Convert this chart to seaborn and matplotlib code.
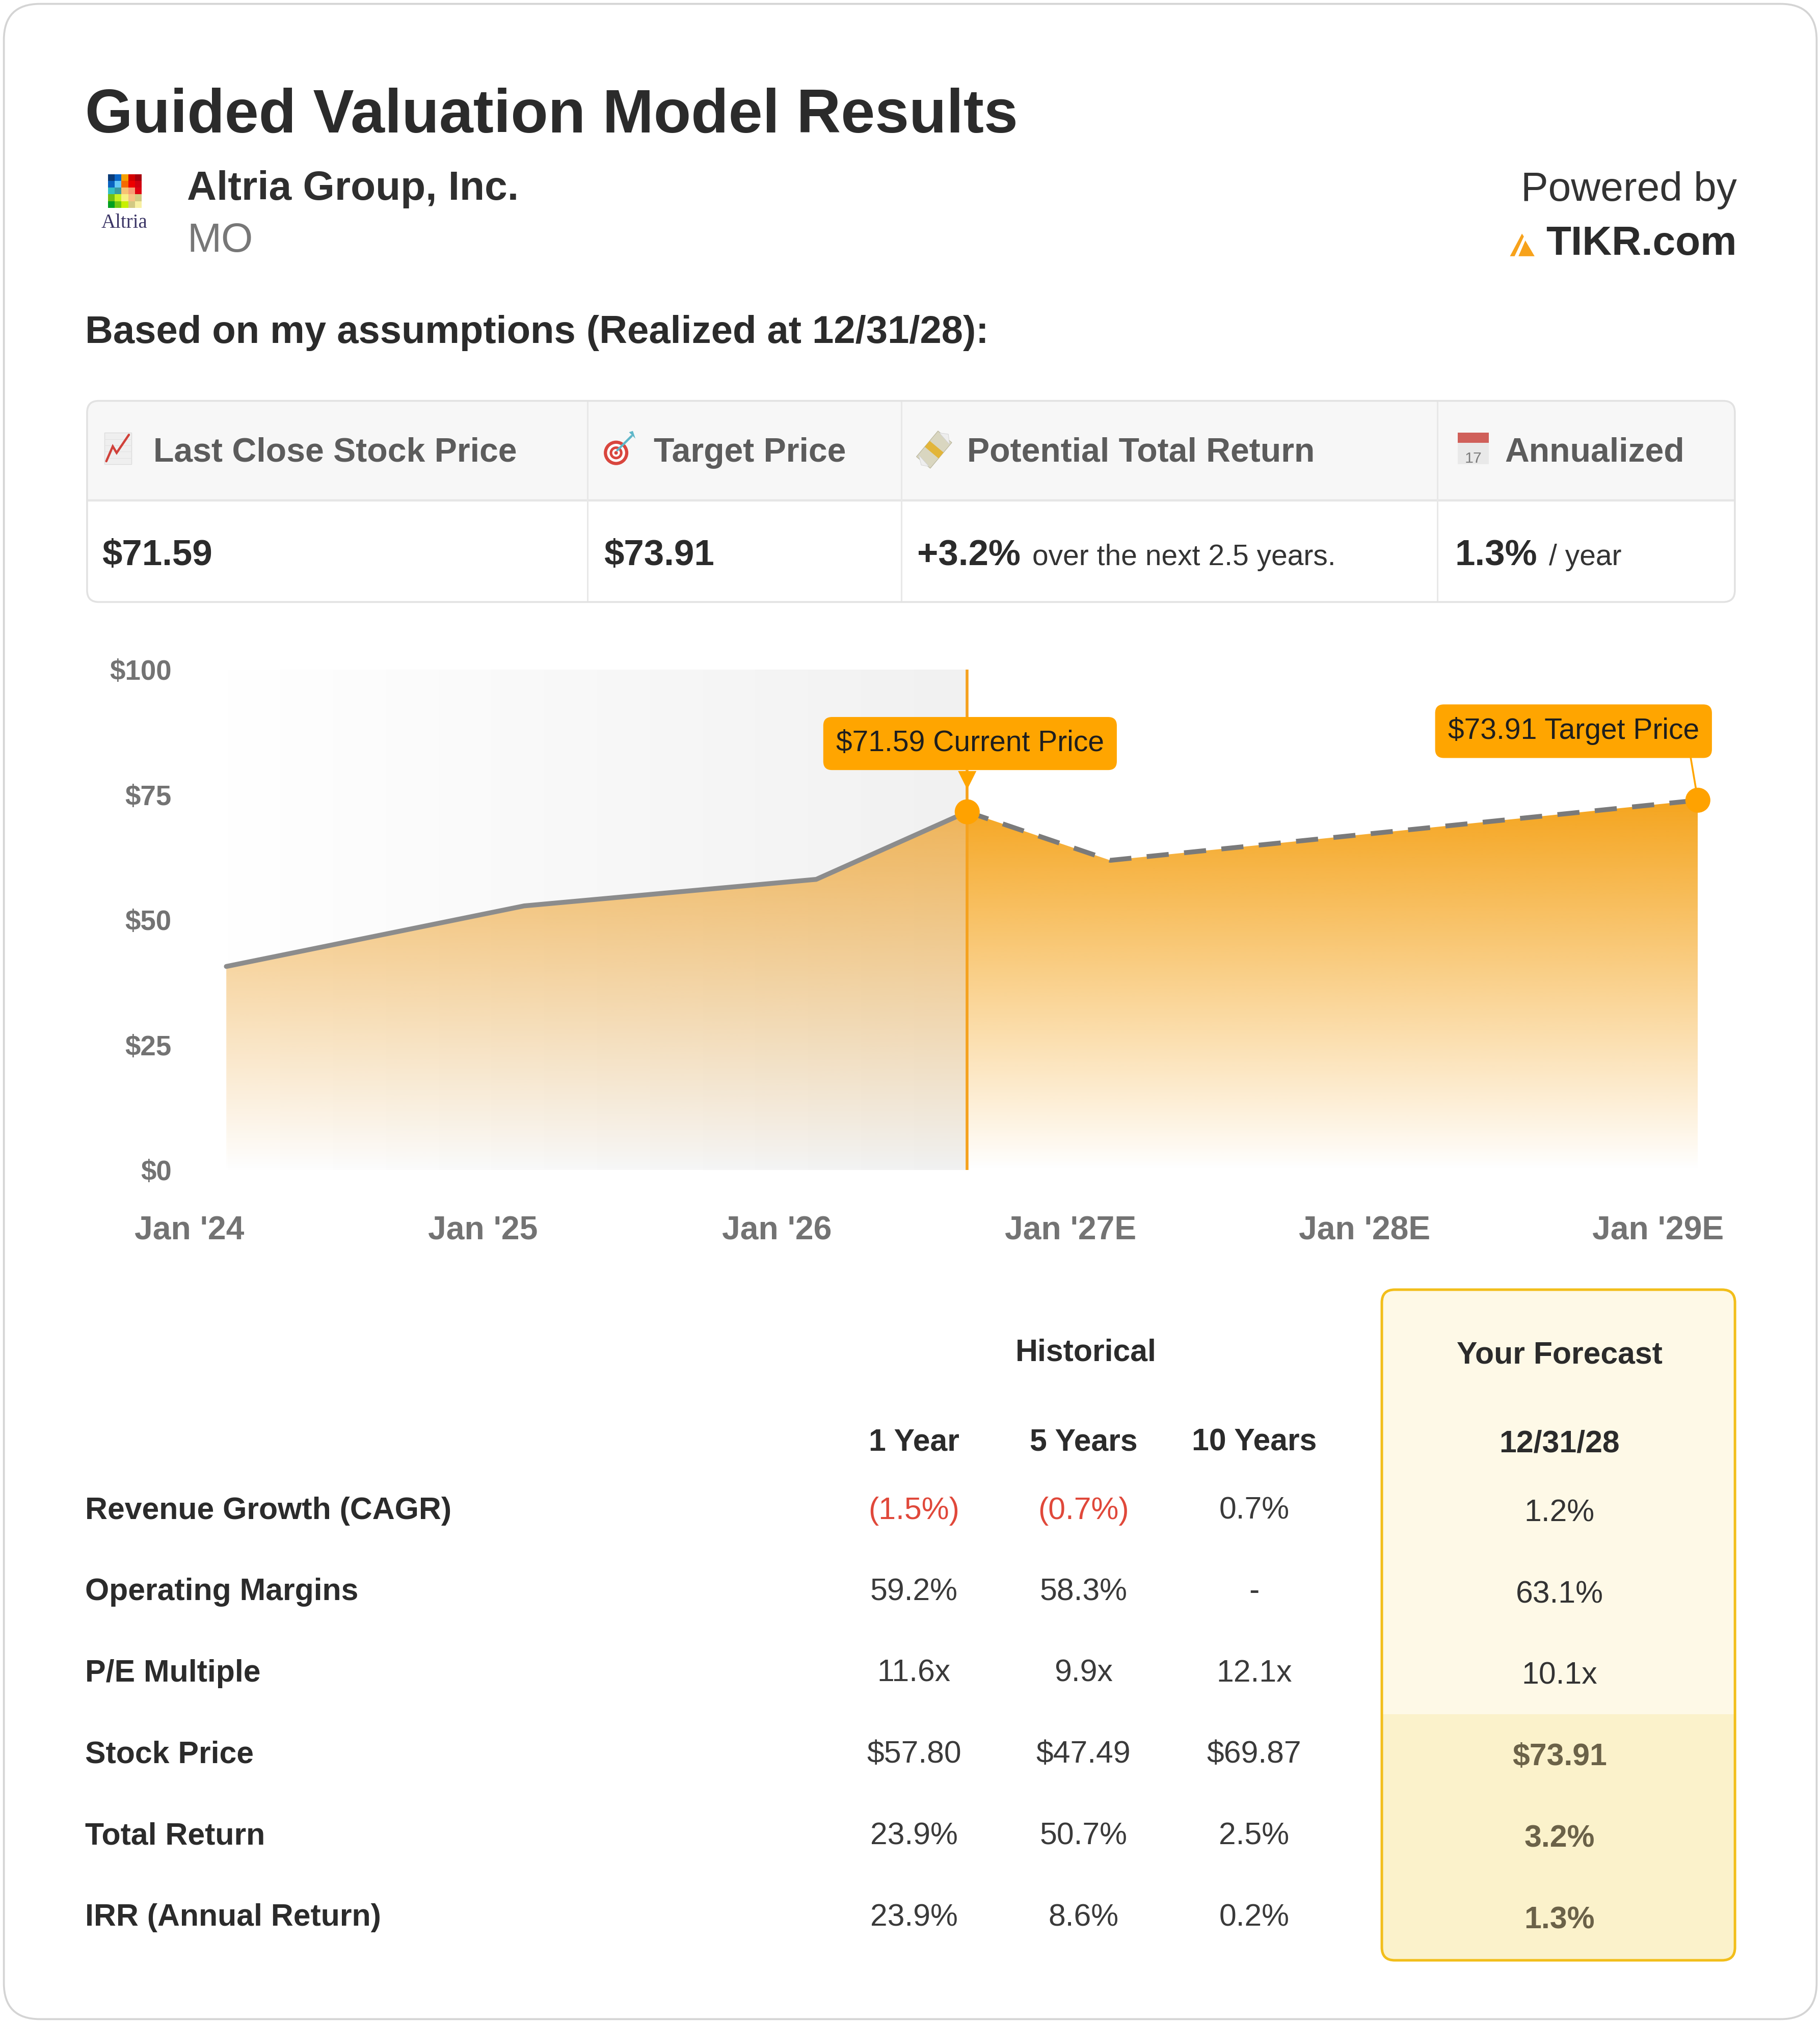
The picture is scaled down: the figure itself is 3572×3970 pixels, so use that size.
import numpy as np
import pandas as pd
import matplotlib
matplotlib.use("Agg")
import matplotlib.pyplot as plt
import matplotlib.transforms as mtransforms
from matplotlib.patches import FancyBboxPatch, Rectangle, Polygon, Circle
from matplotlib.colors import to_rgb
import seaborn as sns

# ---------------- data ----------------
company = "Altria Group, Inc."
ticker = "MO"
hist_years = [2024.126, 2025.140, 2026.134, 2026.648]
hist_prices = [40.7, 52.8, 58.1, 71.59]
fcst_years = [2026.648, 2027.135, 2029.135]
fcst_prices = [71.59, 61.9, 73.91]
current_price = 71.59
target_price = 73.91
x_ticks = [2024, 2025, 2026, 2027, 2028, 2029]
x_tick_labels = ["Jan '24", "Jan '25", "Jan '26", "Jan '27E", "Jan '28E", "Jan '29E"]
y_ticks = [0, 25, 50, 75, 100]
y_tick_labels = ["$0", "$25", "$50", "$75", "$100"]

summary_headers = ["Last Close Stock Price", "Target Price", "Potential Total Return", "Annualized"]
summary_main = ["$71.59", "$73.91", "+3.2%", "1.3%"]
summary_suffix = ["", "", "over the next 2.5 years.", "/ year"]

metric_names = ["Revenue Growth (CAGR)", "Operating Margins", "P/E Multiple",
                "Stock Price", "Total Return", "IRR (Annual Return)"]
period_headers = ["1 Year", "5 Years", "10 Years"]
hist_1y = ["(1.5%)", "59.2%", "11.6x", "$57.80", "23.9%", "23.9%"]
hist_5y = ["(0.7%)", "58.3%", "9.9x", "$47.49", "50.7%", "8.6%"]
hist_10y = ["0.7%", "-", "12.1x", "$69.87", "2.5%", "0.2%"]
forecast_header = "12/31/28"
forecast_vals = ["1.2%", "63.1%", "10.1x", "$73.91", "3.2%", "1.3%"]

# ---------------- style ----------------
sns.set_theme(style="white")
plt.rcParams['font.family'] = ['Liberation Sans', 'DejaVu Sans']

W, H = 1411.0, 1568.0          # layout units (scaled to 3573 x 3970 px)
PT = 3573 / W * 0.72           # points per layout unit of font em

ORANGE = '#FFA500'
DARK = '#2b2b2b'

fig = plt.figure(figsize=(35.73, 39.70), dpi=100)
fig.patch.set_facecolor('white')
bg = fig.add_axes([0, 0, 1, 1], zorder=0)
bg.set_xlim(0, W)
bg.set_ylim(H, 0)
bg.axis('off')


def txt(x, y, s, em, weight='normal', color=DARK, ha='left', va='baseline', family=None, z=5):
    kw = {}
    if family:
        kw['family'] = family
    return bg.text(x, y, s, fontsize=em * PT, fontweight=weight, color=color,
                   ha=ha, va=va, zorder=z, **kw)


# card
card = FancyBboxPatch((3, 3), W - 6, H - 6, boxstyle="round,pad=0,rounding_size=28",
                      fc='white', ec='#d4d4d4', lw=2.7, zorder=0.1)
bg.add_patch(card)

# ---------------- header ----------------
txt(66, 102.5, "Guided Valuation Model Results", 47.5, 'bold')

logo_colors = [
    ['#0b3c78', '#0a66c8', '#f59f00', '#d40000', '#a8000e'],
    ['#0a62c0', '#66c8f5', '#f56a00', '#ee0000', '#d00010'],
    ['#33c0c4', '#3a9aa0', '#f7c273', '#f79c74', '#e00010'],
    ['#72c012', '#c8f020', '#f8f083', '#f6c284', '#d2c983'],
    ['#00a020', '#72c812', '#c8f000', '#d2c983', '#f8f0a2'],
]
lx0, ly0, cs = 83.7, 135.0, 5.22
for r, row in enumerate(logo_colors):
    for c, col in enumerate(row):
        bg.add_patch(Rectangle((lx0 + c * cs, ly0 + r * cs), cs, cs, fc=col, ec='none', zorder=2))
txt(96.5, 176.4, "Altria", 15.4, 'normal', '#3b3566', ha='center', family=['Liberation Serif', 'DejaVu Serif'])

txt(145, 155, company, 31.7, 'bold', '#2f2f2f')
txt(145, 195, ticker, 31.7, 'normal', '#777777')
txt(1346, 155.5, "Powered by", 31.7, 'normal', '#333333', ha='right')
txt(1346, 197.5, "TIKR.com", 31.7, 'bold', DARK, ha='right')
bg.add_patch(Polygon([(1170.3, 198.6), (1173.9, 198.6), (1181.1, 183.3), (1179.6, 181.1)],
                     closed=True, fc='#F7A21B', ec='none', zorder=2))
bg.add_patch(Polygon([(1176.9, 198.6), (1189.4, 198.6), (1182.2, 186.4)],
                     closed=True, fc='#F7A21B', ec='none', zorder=2))

txt(66, 266, "Based on my assumptions (Realized at 12/31/28):", 30.0, 'bold')

# ---------------- summary table ----------------
TX0, TX1, TY0, TY1, TYS = 67.5, 1344.6, 310.7, 466.6, 388.0
outer = FancyBboxPatch((TX0, TY0), TX1 - TX0, TY1 - TY0, boxstyle="round,pad=0,rounding_size=9",
                       fc='white', ec='none', zorder=1)
bg.add_patch(outer)
hdr = Rectangle((TX0, TY0), TX1 - TX0, TYS - TY0, fc='#f7f7f7', ec='none', zorder=1.1)
bg.add_patch(hdr)
hdr.set_clip_path(outer)
bg.add_patch(FancyBboxPatch((TX0, TY0), TX1 - TX0, TY1 - TY0, boxstyle="round,pad=0,rounding_size=9",
                            fc='none', ec='#e2e2e2', lw=2.6, zorder=3))
bg.plot([TX0, TX1], [TYS, TYS], color='#e6e6e6', lw=3.2, zorder=2, solid_capstyle='butt')
col_div = [455.4, 698.4, 1114.2]
for xd in col_div:
    bg.plot([xd, xd], [TY0, TY1], color='#e8e8e8', lw=2.2, zorder=2, solid_capstyle='butt')

hdr_text_x = [118.8, 506.7, 749.7, 1166.4]
icon_x = [80.9, 467.5, 711.0, 1130.0]
for hx, s in zip(hdr_text_x, summary_headers):
    txt(hx, 357.7, s, 26.1, 'bold', '#5c5c5c')

# icon 1: chart increasing
ix = icon_x[0]
bg.add_patch(Rectangle((ix, 335.4), 21, 24.5, fc='#efefef', ec='#dcdcdc', lw=1, zorder=3))
for k in range(1, 5):
    bg.plot([ix, ix + 21], [335.4 + k * 4.9, 335.4 + k * 4.9], color='#e2e2e2', lw=0.8, zorder=3.1)
bg.plot([ix + 1.5, ix + 6.5, ix + 9.5, ix + 19], [357.5, 346, 351, 337], color='#d0413a', lw=3.2,
        zorder=3.2, solid_joinstyle='miter')
# icon 2: target
cx, cy = 477.5, 351.0
for rad, col in [(9.5, '#d9463e'), (7.0, 'white'), (5.0, '#d9463e'), (3.0, 'white'), (1.4, '#d9463e')]:
    bg.add_patch(Circle((cx, cy), rad, fc=col, ec='none', zorder=3))
bg.plot([cx + 1, cx + 12], [cy - 2, cy - 13], color='#5fb7c9', lw=3.2, zorder=3.3)
bg.add_patch(Polygon([(cx + 10, cy - 16), (cx + 15, cy - 11), (cx + 13, cy - 17)], fc='#5fb7c9', ec='none', zorder=3.3))
# icon 3: money with wings
mx, my = 724.0, 348.5
ang = np.deg2rad(-50)
rot = np.array([[np.cos(ang), -np.sin(ang)], [np.sin(ang), np.cos(ang)]])
rect_pts = np.array([[-13, -7], [13, -7], [13, 7], [-13, 7]]) @ rot.T + [mx, my]
bg.add_patch(Polygon(rect_pts, fc='#d9d6c0', ec='#b8b49a', lw=0.8, zorder=3))
band = np.array([[-3, -7], [3, -7], [3, 7], [-3, 7]]) @ rot.T + [mx, my]
bg.add_patch(Polygon(band, fc='#e2b53a', ec='none', zorder=3.1))
bg.add_patch(Polygon([(mx - 12, my + 4), (mx - 4, my + 13), (mx - 10, my + 12)], fc='#eeeeee', ec='#cfcfcf', lw=0.6, zorder=3.2))
bg.add_patch(Polygon([(mx + 12, my - 4), (mx + 4, my - 13), (mx + 11, my - 12)], fc='#eeeeee', ec='#cfcfcf', lw=0.6, zorder=3.2))
# icon 4: calendar
kx = icon_x[3]
bg.add_patch(Rectangle((kx, 335.4), 24, 24.5, fc='#e9e9e9', ec='none', zorder=3))
bg.add_patch(Rectangle((kx, 335.4), 24, 8, fc='#d0605a', ec='none', zorder=3.1))
txt(kx + 12, 358.5, "17", 12, 'normal', '#7a7a7a', ha='center', z=3.2)

# values row
val_x = [79.2, 468.0, 711.0, 1127.7]
fig.canvas.draw()
renderer = fig.canvas.get_renderer()
for vx, main, suf in zip(val_x, summary_main, summary_suffix):
    t = txt(vx, 438.2, main, 28.0, 'bold', DARK)
    if suf:
        bb = t.get_window_extent(renderer=renderer)
        xe = bg.transData.inverted().transform((bb.x1, bb.y0))[0]
        txt(xe + 9, 438.2, suf, 22.5, 'normal', '#333333')

# ---------------- chart ----------------
X0, X1 = 146.7, 1330.0
YT, YB = 519.0, 907.0
PX_PER_YEAR = 227.7
ax = fig.add_axes([X0 / W, 1 - YB / H, (X1 - X0) / W, (YB - YT) / H], zorder=1)
ax.set_facecolor('none')
xlim = (x_ticks[0], x_ticks[0] + (X1 - X0) / PX_PER_YEAR)

# historical background shading (horizontal gradient)
n = 256
gray = np.ones((1, n, 3))
g_end = np.array(to_rgb('#f1f1f1'))
for i in range(3):
    gray[0, :, i] = np.linspace(1.0, g_end[i], n)
ax.imshow(gray, extent=[hist_years[0], hist_years[-1], 0, 100], aspect='auto',
          interpolation='bilinear', zorder=0.5)


def vgrad(color, amax, vfull=75.0, n=512):
    v = np.linspace(100, 0, n)
    a = np.clip(v / vfull, 0, 1) * amax
    arr = np.zeros((n, 1, 4))
    arr[..., :3] = to_rgb(color)
    arr[..., 3] = a[:, None]
    return arr


poly_h = ax.fill_between(hist_years, hist_prices, 0, facecolor='none', edgecolor='none')
im_h = ax.imshow(vgrad('#EFA636', 0.85), extent=[hist_years[0], hist_years[-1], 0, 100],
                 aspect='auto', interpolation='bilinear', zorder=1)
im_h.set_clip_path(poly_h.get_paths()[0], transform=ax.transData)

poly_f = ax.fill_between(fcst_years, fcst_prices, 0, facecolor='none', edgecolor='none')
im_f = ax.imshow(vgrad('#F5A31A', 1.0), extent=[fcst_years[0], fcst_years[-1], 0, 100],
                 aspect='auto', interpolation='bilinear', zorder=1)
im_f.set_clip_path(poly_f.get_paths()[0], transform=ax.transData)

ax.axvline(hist_years[-1], color='#F5A11D', lw=4.0, zorder=2.5)

sns.lineplot(x=hist_years, y=hist_prices, ax=ax, color='#8c8c8c', linewidth=6.8,
             solid_capstyle='round', zorder=3)
sns.lineplot(x=fcst_years, y=fcst_prices, ax=ax, color='#7a7a7a', linewidth=6.8,
             linestyle=(0, (4.6, 3.2)), dash_capstyle='butt', zorder=3)
sns.scatterplot(x=[hist_years[-1], fcst_years[-1]], y=[current_price, target_price], ax=ax,
                s=1250, color='#FFA200', edgecolor='none', zorder=7, clip_on=False, legend=False)

ax.set_xlim(*xlim)
ax.set_ylim(0, 100)

ax.annotate(f"${current_price:.2f} Current Price", xy=(hist_years[-1], current_price),
            xytext=(4, 96.5), textcoords='offset points', ha='center', va='center',
            fontsize=22.5 * PT, color='#1e1e1e', zorder=6, annotation_clip=False,
            bbox=dict(boxstyle='round,pad=0.44,rounding_size=0.3', fc=ORANGE, ec='none'))
ptr_trans = fig.dpi_scale_trans + mtransforms.ScaledTranslation(hist_years[-1], current_price, ax.transData)
ax.add_patch(Polygon([(-0.18, 0.80), (0.18, 0.80), (0.0, 0.44)], closed=True, transform=ptr_trans,
                     fc=ORANGE, ec='none', zorder=6, clip_on=False))

ax.annotate(f"${target_price:.2f} Target Price", xy=(fcst_years[-1], target_price),
            xytext=(-175.7, 97.5), textcoords='offset points', ha='center', va='center',
            fontsize=22.5 * PT, color='#1e1e1e', zorder=6, annotation_clip=False,
            bbox=dict(boxstyle='round,pad=0.44,rounding_size=0.3', fc=ORANGE, ec='none'),
            arrowprops=dict(arrowstyle='-', color=ORANGE, lw=2.6, shrinkA=0, shrinkB=0,
                            relpos=(0.958, 0.0)))

ax.set_xticks(x_ticks, x_tick_labels)
ax.set_yticks(y_ticks, y_tick_labels)
ax.tick_params(axis='both', length=0)
ax.tick_params(axis='x', pad=64, labelsize=25.4 * PT, labelcolor='#737373')
ax.tick_params(axis='y', pad=25, labelsize=21.6 * PT, labelcolor='#737373')
for lab in ax.get_xticklabels() + ax.get_yticklabels():
    lab.set_fontweight('bold')
ax.grid(False)
sns.despine(ax=ax, left=True, bottom=True)

# ---------------- bottom table ----------------
FX0, FX1, FY0, FY1, FYS = 1071.0, 1344.7, 999.6, 1519.4, 1328.5
fbox = FancyBboxPatch((FX0, FY0), FX1 - FX0, FY1 - FY0, boxstyle="round,pad=0,rounding_size=10",
                      fc='#FEF9E7', ec='none', zorder=1)
bg.add_patch(fbox)
fbot = Rectangle((FX0, FYS), FX1 - FX0, FY1 - FYS, fc='#FBF2CB', ec='none', zorder=1.1)
bg.add_patch(fbot)
fbot.set_clip_path(fbox)
bg.add_patch(FancyBboxPatch((FX0, FY0), FX1 - FX0, FY1 - FY0, boxstyle="round,pad=0,rounding_size=10",
                            fc='none', ec='#F2BE1A', lw=3.6, zorder=3))

col_x = [708.4, 839.7, 972.0]
fc_x = 1208.7
EM_T = 24.0
txt(841.5, 1054.7, "Historical", EM_T, 'bold', DARK, ha='center')
txt(fc_x, 1056.9, "Your Forecast", EM_T, 'bold', DARK, ha='center')
for cxp, s in zip(col_x, period_headers):
    txt(cxp, 1124.3, s, EM_T, 'bold', DARK, ha='center')
txt(fc_x, 1125.5, forecast_header, EM_T, 'bold', DARK, ha='center')

row_y = [1177.3, 1240.3, 1303.3, 1366.3, 1429.6, 1492.7]
for i, name in enumerate(metric_names):
    y = row_y[i]
    txt(66, y, name, EM_T, 'bold', DARK)
    for cxp, arr in zip(col_x, [hist_1y, hist_5y, hist_10y]):
        v = arr[i]
        colr = '#e0483a' if v.startswith('(') else '#3a3a3a'
        txt(cxp, y, v, EM_T, 'normal', colr, ha='center')
    if i >= 3:
        txt(fc_x, y + 2, forecast_vals[i], EM_T, 'bold', '#6b6248', ha='center')
    else:
        txt(fc_x, y + 2, forecast_vals[i], EM_T, 'normal', '#333333', ha='center')

fig.savefig("out.png", dpi=100, facecolor='white')
